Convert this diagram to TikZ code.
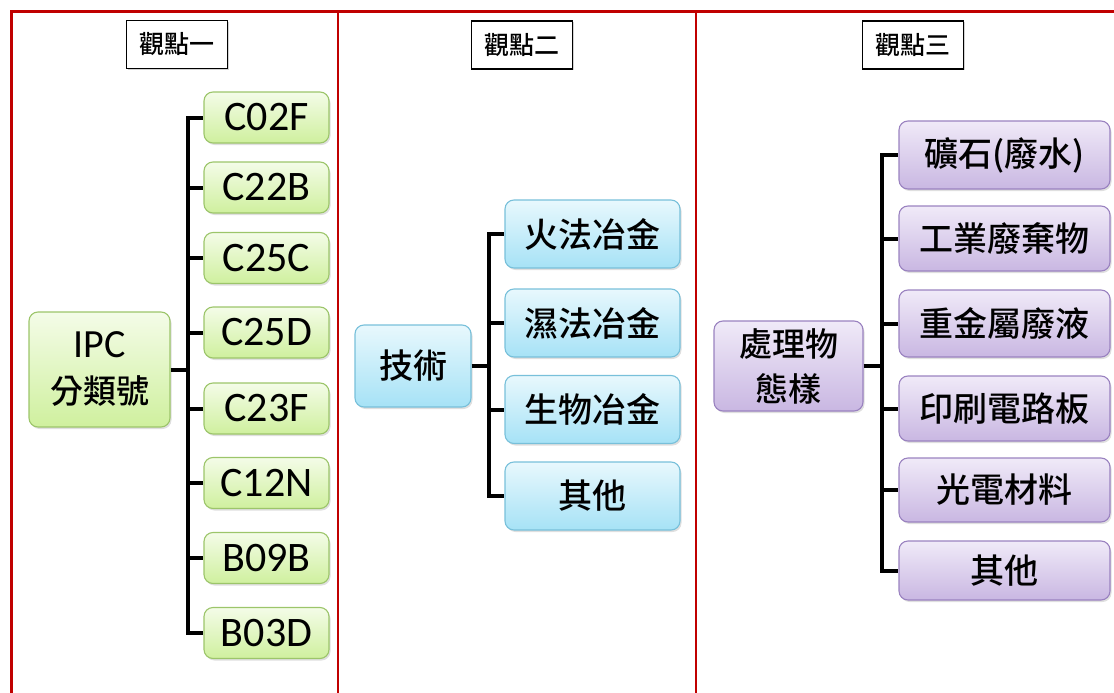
\documentclass[tikz,border=0pt]{standalone}
\usepackage{fontspec}
\setmainfont{Noto Sans CJK TC}[UprightFont={* Medium}]
\newfontfamily\lat{Carlito}
\usetikzlibrary{shadows}
\definecolor{frame}{HTML}{C00000}
\definecolor{gtop}{HTML}{F4FCE8}
\definecolor{gbot}{HTML}{CFF09E}
\definecolor{gline}{HTML}{9CC56A}
\definecolor{btop}{HTML}{E8F8FD}
\definecolor{bbot}{HTML}{A6E2F6}
\definecolor{bline}{HTML}{78C0DA}
\definecolor{ptop}{HTML}{F0EAF8}
\definecolor{pbot}{HTML}{C9B7E2}
\definecolor{pline}{HTML}{9A82C0}
\tikzset{
  framel/.style={draw=frame, line width=2.6pt},
  hbox/.style={draw=black, line width=1.2pt, fill=white, minimum width=101pt, minimum height=48pt,
    font=\fontsize{25}{28}\selectfont, inner sep=0pt,
    drop shadow={shadow xshift=1.2pt, shadow yshift=-1.2pt, opacity=0.35}},
  basebox/.style={rounded corners=9pt, line width=1.1pt, inner sep=0pt, align=center,
    drop shadow={shadow xshift=1.5pt, shadow yshift=-2pt, opacity=0.25}},
  gbox/.style={basebox, draw=gline, top color=gtop, bottom color=gbot},
  bbox/.style={basebox, draw=bline, top color=btop, bottom color=bbot},
  pbox/.style={basebox, draw=pline, top color=ptop, bottom color=pbot},
  cjk/.style={font=\fontsize{34}{40}\selectfont},
  latf/.style={font=\lat\fontsize{42}{44}\selectfont},
  conn/.style={draw=black, line width=4pt, line join=miter}
}
\begin{document}
\begin{tikzpicture}[x=1pt,y=-1pt]
\useasboundingbox (0,0) rectangle (1114,693);
% frame
\draw[framel] (11.5,693) -- (11.5,11.5) -- (1114,11.5);
\draw[framel] (338,11.5) -- (338,693);
\draw[framel] (696,11.5) -- (696,693);
% headers
\node[hbox] (h1) at (177,44.5) {觀點一};
\node[hbox] (h2) at (522,45) {觀點二};
\node[hbox] (h3) at (913,45) {觀點三};
% column 1
\node[gbox, minimum width=141pt, minimum height=115pt, font=\fontsize{33}{46}\selectfont] (ipc) at (99.5,369.5) {{\lat\fontsize{40}{46}\selectfont IPC}\\分類號};
\foreach \n/\t/\y in {c1/C02F/117.5, c2/C22B/187.5, c3/C25C/258, c4/C25D/332.5, c5/C23F/408.5, c6/C12N/483, c7/B09B/558, c8/B03D/633}{
  \node[gbox, latf, minimum width=125pt, minimum height=51pt] (\n) at (266.5,\y) {\t};
}
\coordinate (b1) at (188,369.5);
\draw[conn] (ipc.east) -- (b1);
\foreach \n in {c1,c2,c3,c4,c5,c6,c7,c8}{ \draw[conn] (b1) |- (\n.west); }
% column 2
\node[bbox, cjk, minimum width=116pt, minimum height=82pt] (tech) at (413,366) {技術};
\node[bbox, cjk, minimum width=175pt, minimum height=68pt] (t1) at (592.5,234) {火法冶金};
\node[bbox, cjk, minimum width=175pt, minimum height=68pt] (t2) at (592.5,323) {濕法冶金};
\node[bbox, cjk, minimum width=175pt, minimum height=68pt] (t3) at (592.5,409.5) {生物冶金};
\node[bbox, cjk, minimum width=175pt, minimum height=68pt] (t4) at (592.5,496) {其他};
\coordinate (b2) at (489,366);
\draw[conn] (tech.east) -- (b2);
\foreach \n in {t1,t2,t3,t4}{ \draw[conn] (b2) |- (\n.west); }
% column 3
\node[pbox, minimum width=149pt, minimum height=90pt, font=\fontsize{33}{45}\selectfont] (state) at (788.5,366) {處理物\\態樣};
\node[pbox, cjk, minimum width=211pt, minimum height=68pt] (s1) at (1004.5,155) {礦石(廢水)};
\node[pbox, cjk, minimum width=211pt, minimum height=65pt] (s2) at (1004.5,238.5) {工業廢棄物};
\node[pbox, cjk, minimum width=211pt, minimum height=67pt] (s3) at (1004.5,323.5) {重金屬廢液};
\node[pbox, cjk, minimum width=211pt, minimum height=65pt] (s4) at (1004.5,408.5) {印刷電路板};
\node[pbox, cjk, minimum width=211pt, minimum height=64pt] (s5) at (1004.5,490) {光電材料};
\node[pbox, cjk, minimum width=211pt, minimum height=59pt] (s6) at (1004.5,570.5) {其他};
\coordinate (b3) at (882,366);
\draw[conn] (state.east) -- (b3);
\foreach \n in {s1,s2,s3,s4,s5,s6}{ \draw[conn] (b3) |- (\n.west); }
\end{tikzpicture}
\end{document}
